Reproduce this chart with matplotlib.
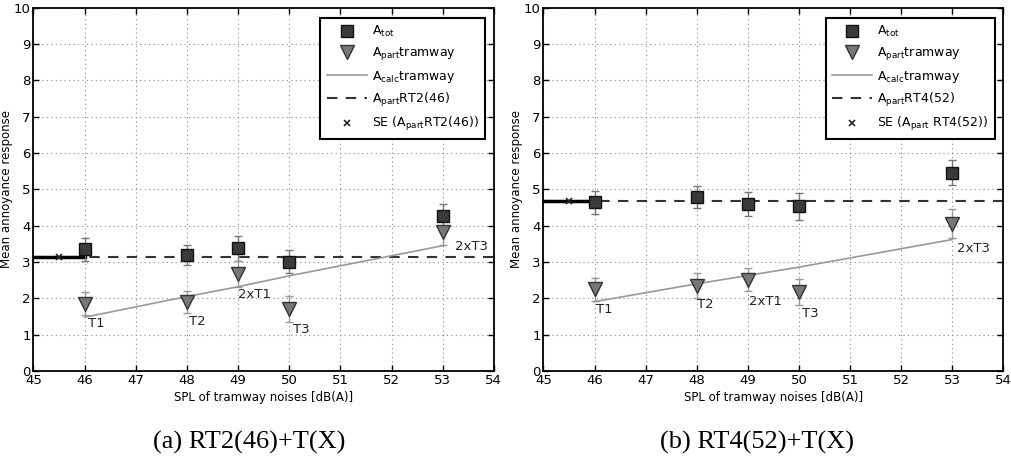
import matplotlib
matplotlib.use("Agg")
import matplotlib.pyplot as plt
from matplotlib.lines import Line2D

plt.rcParams['font.family'] = ['DejaVu Sans']
plt.rcParams['mathtext.default'] = 'regular'

spl = [46, 48, 49, 50, 53]
labels = ['T1', 'T2', '2xT1', 'T3', '2xT3']

# Panel (a) RT2(46)+T(X)
a_tot = [3.35, 3.20, 3.38, 3.01, 4.27]
a_tot_err = [0.31, 0.27, 0.35, 0.32, 0.32]
a_part = [1.85, 1.91, 2.67, 1.70, 3.84]
a_part_err = [0.32, 0.30, 0.35, 0.36, 0.36]
a_calc = [1.48, 2.05, 2.32, 2.62, 3.45]
a_bg = 3.15
a_name = 'RT2(46)'

# Panel (b) RT4(52)+T(X)
b_tot = [4.65, 4.79, 4.59, 4.53, 5.46]
b_tot_err = [0.32, 0.31, 0.33, 0.36, 0.35]
b_part = [2.25, 2.35, 2.51, 2.17, 4.05]
b_part_err = [0.31, 0.35, 0.32, 0.35, 0.40]
b_calc = [1.91, 2.40, 2.63, 2.86, 3.62]
b_bg = 4.68
b_name = 'RT4(52)'

fig = plt.figure(figsize=(10.12, 4.62), dpi=100)

def panel(rect, tot, tot_err, part, part_err, calc, bg, name, lab_off, se_space):
    ax = fig.add_axes(rect)
    ax.set_xlim(45, 54)
    ax.set_ylim(0, 10)
    ax.set_xticks(range(45, 55))
    ax.set_yticks(range(0, 11))
    ax.grid(True, linestyle=(0, (1, 3)), color='#888888', linewidth=0.8)
    ax.tick_params(direction='in', top=True, right=True, labelsize=9.5, length=4, width=1, pad=2)
    for s in ax.spines.values():
        s.set_linewidth(1.3)
    # background line
    ax.axhline(bg, color='#333333', linestyle=(0, (5, 4)), linewidth=1.5, zorder=2)
    ax.plot([45, 46], [bg, bg], color='black', linewidth=2.5, zorder=3)
    ax.plot([45.5], [bg], marker='x', color='#222222', markersize=5, mew=1.2, zorder=4)
    # calc line
    ax.plot(spl, calc, color='#999999', linewidth=1.2, zorder=3)
    # error bars
    ax.errorbar(spl, tot, yerr=tot_err, fmt='none', ecolor='#777777', elinewidth=1, capsize=3, zorder=4)
    ax.errorbar(spl, part, yerr=part_err, fmt='none', ecolor='#999999', elinewidth=1, capsize=3, zorder=4)
    ax.plot(spl, tot, linestyle='none', marker='s', markersize=8, markerfacecolor='#3a3a3a',
            markeredgecolor='#111111', zorder=5)
    ax.plot(spl, part, linestyle='none', marker='v', markersize=10, markerfacecolor='#777777',
            markeredgecolor='#333333', zorder=5)
    for x, p, l, (dx, dy) in zip(spl, part, labels, lab_off):
        ax.text(x + dx, p + dy, l, fontsize=9.5, ha='left', va='center', color='#222222', zorder=6)
    ax.set_xlabel('SPL of tramway noises [dB(A)]', fontsize=8.5, labelpad=3)
    ax.set_ylabel('Mean annoyance response', fontsize=8.5)
    ax.yaxis.set_label_coords(-0.045, 0.5)
    handles = [
        Line2D([], [], linestyle='none', marker='s', markersize=8, markerfacecolor='#3a3a3a', markeredgecolor='#111111'),
        Line2D([], [], linestyle='none', marker='v', markersize=10, markerfacecolor='#777777', markeredgecolor='#333333'),
        Line2D([], [], color='#999999', linewidth=1.2),
        Line2D([], [], color='#333333', linestyle=(0, (5, 4)), linewidth=1.5),
        Line2D([], [], linestyle='none', marker='x', color='#222222', markersize=5, mew=1.2),
    ]
    texts = ['A$_{tot}$', 'A$_{part}$tramway', 'A$_{calc}$tramway',
             'A$_{part}$' + name, 'SE (A$_{part}$' + se_space + name + ')']
    leg = ax.legend(handles, texts, loc='upper right', bbox_to_anchor=(0.995, 0.99),
                    fontsize=9, fancybox=False, framealpha=1, edgecolor='black',
                    borderpad=0.5, labelspacing=0.5, handlelength=3.2, handletextpad=0.4)
    leg.get_frame().set_linewidth(1.5)
    leg.set_zorder(10)
    return ax

off_a = [(0.07, -0.54), (0.05, -0.55), (0.0, -0.57), (0.08, -0.55), (0.25, -0.41)]
off_b = [(0.03, -0.57), (0.0, -0.53), (0.03, -0.6), (0.05, -0.58), (0.1, -0.67)]

panel([0.033, 0.197, 0.455, 0.786], a_tot, a_tot_err, a_part, a_part_err, a_calc, a_bg, a_name, off_a, '')
panel([0.537, 0.197, 0.4545, 0.786], b_tot, b_tot_err, b_part, b_part_err, b_calc, b_bg, b_name, off_b, ' ')

fig.text(0.246, 0.043, '(a) RT2(46)+T(X)', fontsize=19, family='Liberation Serif', ha='center', va='center')
fig.text(0.748, 0.043, '(b) RT4(52)+T(X)', fontsize=19, family='Liberation Serif', ha='center', va='center')

fig.savefig('out.png', dpi=100)
